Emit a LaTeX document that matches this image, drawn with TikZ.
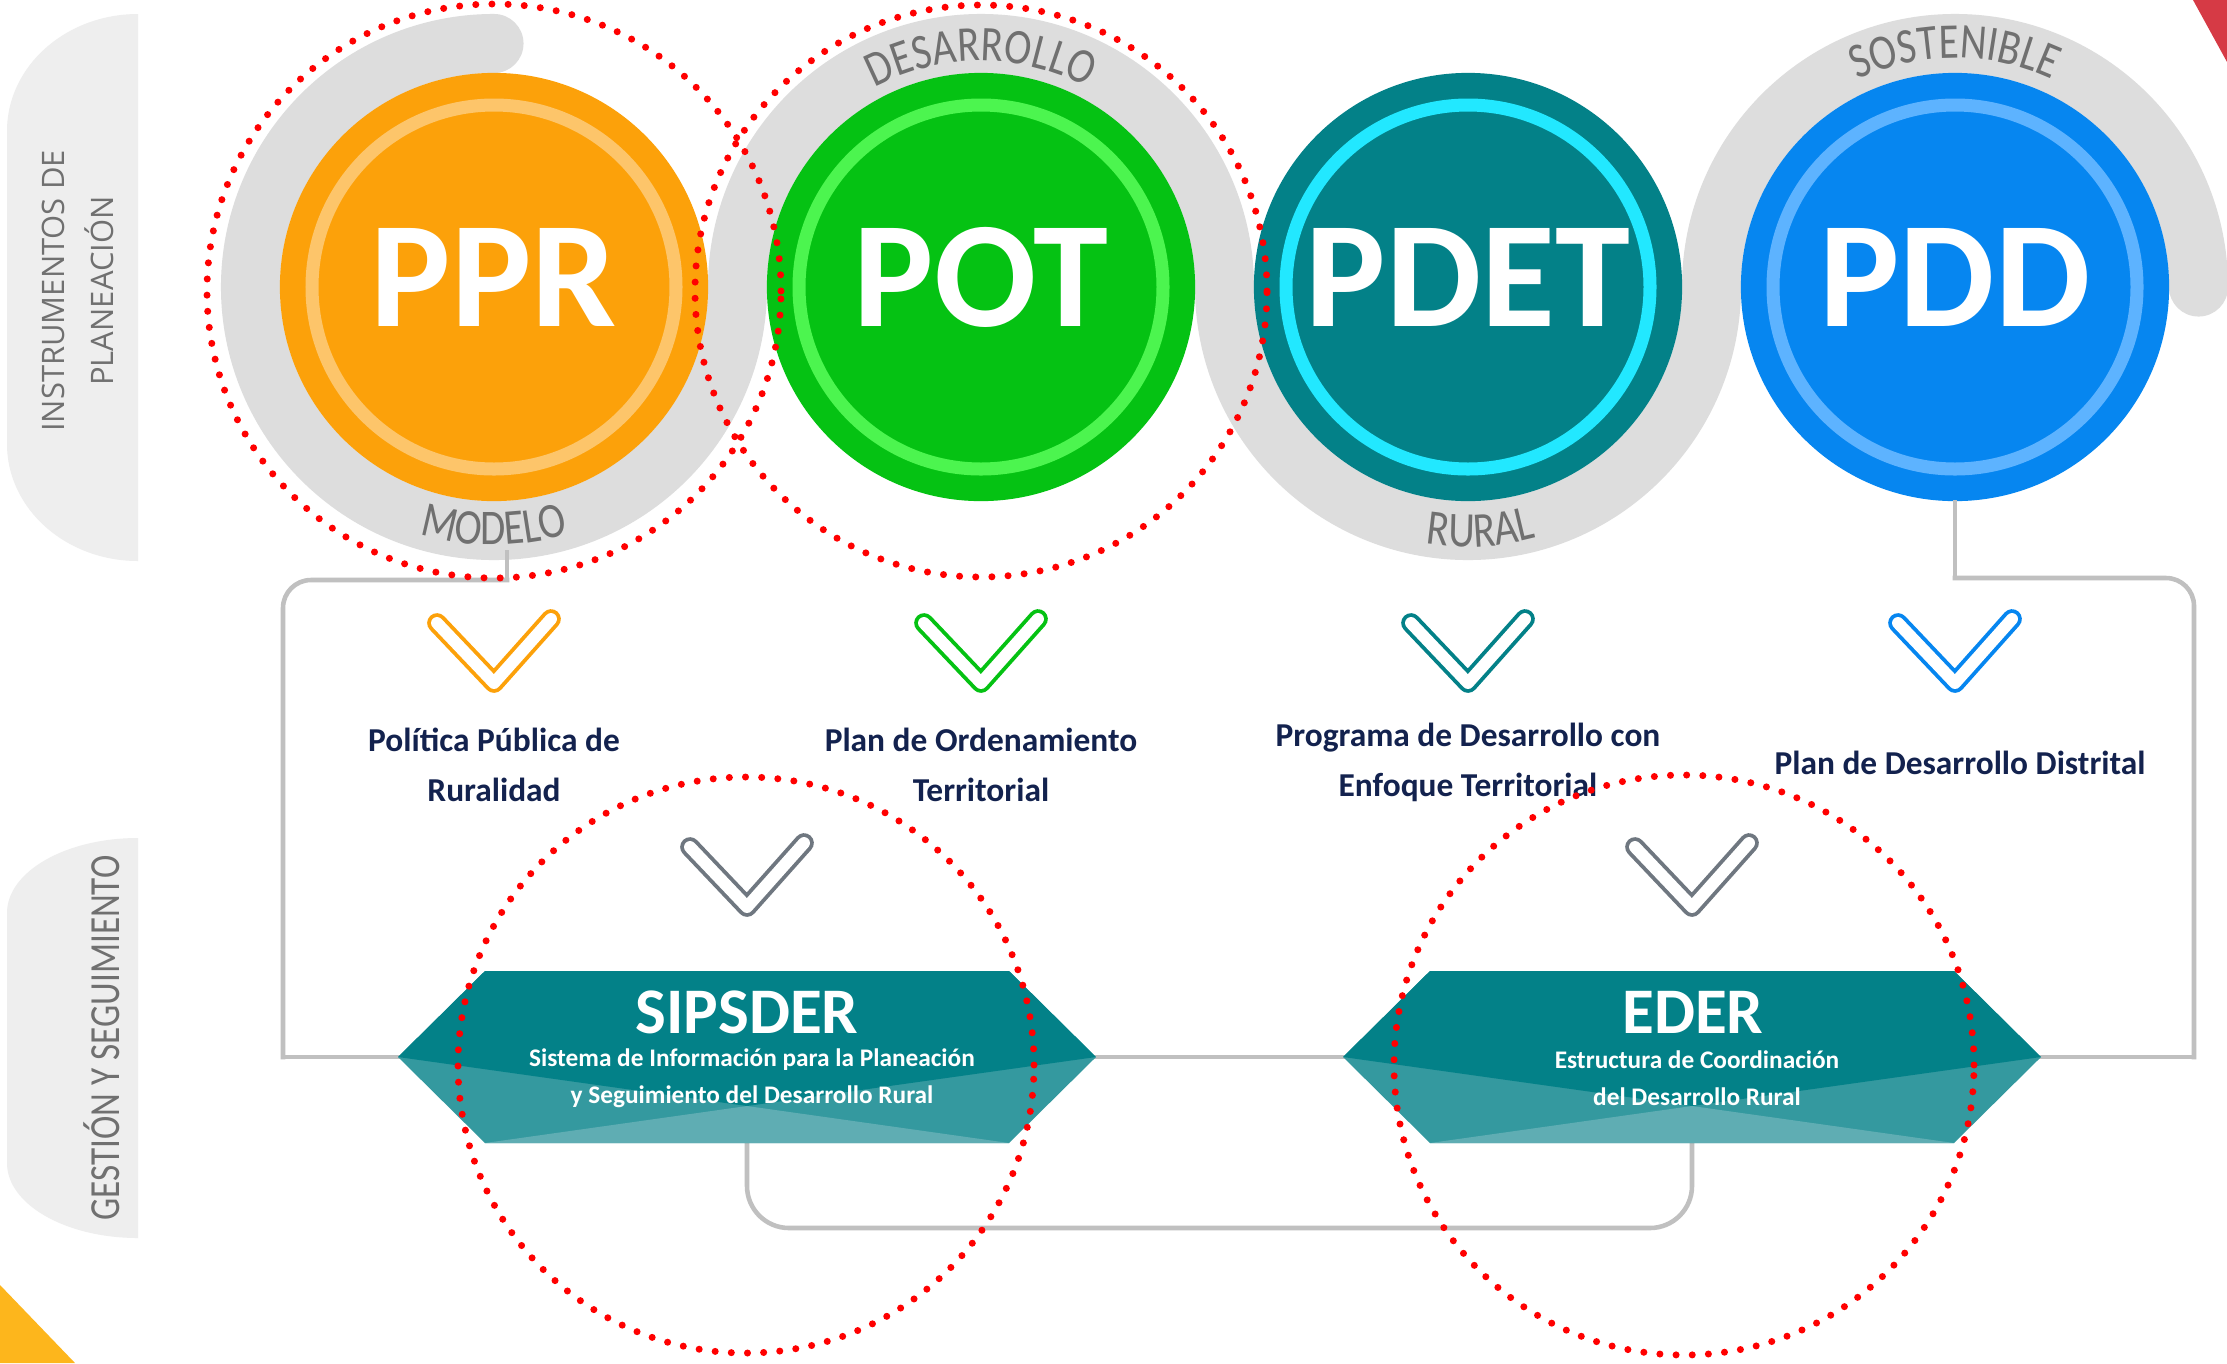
\documentclass[tikz,border=0pt]{standalone}
\usepackage{fontspec}
\setmainfont{Carlito}
\newfontfamily\narrowfont[FakeStretch=0.82]{Carlito}
\newfontfamily\sidefont{Open Sans}
\usetikzlibrary{positioning, calc, decorations.text}

\definecolor{pprorange}{RGB}{252, 161, 10}
\definecolor{pprring}{RGB}{253, 197, 106}
\definecolor{potgreen}{RGB}{5, 194, 19}
\definecolor{potring}{RGB}{76, 245, 79}
\definecolor{pdetteal}{RGB}{3, 129, 136}
\definecolor{pdetring}{RGB}{34, 232, 255}
\definecolor{pddblue}{RGB}{6, 134, 240}
\definecolor{pddring}{RGB}{93, 179, 255}
\definecolor{bandgrey}{RGB}{221, 221, 221}
\definecolor{pillgrey}{RGB}{238, 238, 238}
\definecolor{wordgrey}{RGB}{112, 112, 112}
\definecolor{linegrey}{RGB}{192, 192, 192}
\definecolor{navytext}{RGB}{19, 34, 78}
\definecolor{chevgrey}{RGB}{111, 119, 128}
\definecolor{hexdark}{RGB}{3, 129, 136}
\definecolor{hexmid}{RGB}{52, 153, 159}
\definecolor{hexlight}{RGB}{95, 173, 179}
\definecolor{markred}{RGB}{255, 0, 0}
\definecolor{cornerred}{RGB}{214, 58, 69}
\definecolor{corneryellow}{RGB}{253, 182, 28}

\newcommand\bandfmt{\narrowfont\fontsize{14.2}{15}\selectfont\color{wordgrey}}

\tikzset{
  plan/.style={circle, minimum size=4.28cm, inner sep=0pt},
  planring/.style={line width=3.7pt},
  acronym/.style={text=white, inner sep=0pt, font=\bfseries\fontsize{43}{43}\selectfont},
  planlabel/.style={text=navytext, align=center, font=\bfseries\fontsize{9.5}{14.2}\selectfont},
  hextitle/.style={text=white, inner sep=0pt, font=\bfseries\fontsize{18.5}{20}\selectfont},
  hexsub/.style={text=white, align=center, inner sep=0pt, font=\bfseries\fontsize{7.2}{10.5}\selectfont},
  chev/.style={line width=1.1pt, double=white, double distance=3.4pt, line cap=round, line join=round},
  link/.style={linegrey, line width=1.3pt, line cap=rect},
  dotring/.style={markred, line width=2pt, line cap=round, dash pattern=on 0pt off 4.6pt},
  sidetag/.style={text=wordgrey, align=center, rotate=90},
  bandword/.style={decorate, decoration={text along path, text align=center, text={|\bandfmt|#1}}}
}

\begin{document}
\begin{tikzpicture}[x=0.01cm, y=0.01cm]
  \useasboundingbox (0,0) rectangle (2227,-1363);
  \fill[white] (0,0) rectangle (2227,-1363);

  % side tabs
  \fill[pillgrey] (138,-14) arc[start angle=90, end angle=180, x radius=131, y radius=117]
    -- (7,-444) arc[start angle=180, end angle=270, x radius=131, y radius=117] -- cycle;
  \fill[pillgrey] (138,-838) arc[start angle=90, end angle=180, x radius=131, y radius=75]
    -- (7,-1163) arc[start angle=180, end angle=270, x radius=131, y radius=75] -- cycle;
  \node[sidetag, font=\sidefont\fontsize{8.8}{13.7}\selectfont] (instr) at (78,-291) {INSTRUMENTOS DE\\PLANEACIÓN};
  \node[sidetag, font=\narrowfont\fontsize{12.2}{13}\selectfont] (gestion) at (102,-1038) {GESTIÓN Y SEGUIMIENTO};

  % grey band winding round the circles
  \draw[bandgrey, line width=16.8pt, line cap=round]
    (494,-43.5) arc[start angle=90, end angle=360, radius=243.5]
    arc[start angle=180, end angle=0, radius=243.5]
    arc[start angle=180, end angle=360, radius=243.5]
    arc[start angle=180, end angle=0, radius=243.5];

  % the four instruments
  \node[plan, fill=pprorange] (ppr) at (494,-287) {};
  \node[plan, fill=potgreen] (pot) at (981,-287) {};
  \node[plan, fill=pdetteal] (pdet) at (1468,-287) {};
  \node[plan, fill=pddblue] (pdd) at (1955,-287) {};
  \foreach \c/\rc in {ppr/pprring, pot/potring, pdet/pdetring, pdd/pddring}
    \draw[planring, \rc] (\c.center) circle[radius=182];
  \node[acronym] (pprtag) at (494,-277) {PPR};
  \node[acronym] (pottag) at (981,-277) {POT};
  \node[acronym] (pdettag) at (1468,-277) {PDET};
  \node[acronym] (pddtag) at (1955,-277) {PDD};

  % words on the band
  \path[bandword=MODELO] ($(ppr.center)+(235:258)$) arc[start angle=235, end angle=305, radius=258];
  \path[bandword=DESARROLLO] ($(pot.center)+(125:226)$) arc[start angle=125, end angle=55, radius=226];
  \path[bandword=RURAL] ($(pdet.center)+(238:260)$) arc[start angle=238, end angle=308, radius=260];
  \path[bandword=SOSTENIBLE] ($(pdd.center)+(125:229)$) arc[start angle=125, end angle=55, radius=229];

  % chevrons
  \foreach \cx/\cy/\cc in {494/611/pprorange, 981/611/potgreen, 1468/611/pdetteal,
                           1955/611/pddblue, 747/835/chevgrey, 1692/835/chevgrey}
    \draw[chev, \cc] (\cx-57,-\cy-12) -- (\cx,-\cy-72) -- (\cx+57,-\cy-8);

  % labels
  \node[planlabel] (pprlabel) at (494,-765) {Política Pública de\\Ruralidad};
  \node[planlabel] (potlabel) at (981,-765) {Plan de Ordenamiento\\Territorial};
  \node[planlabel] (pdetlabel) at (1468,-762) {Programa de Desarrollo con\\Enfoque Territorial};
  \node[planlabel] (pddlabel) at (1960,-763) {Plan de Desarrollo Distrital};

  % hexagon corners
  \foreach \hx/\hn in {747/sip, 1692/eder} {
    \coordinate (\hn L) at (\hx-349,-1057);
    \coordinate (\hn TL) at (\hx-262,-971);
    \coordinate (\hn TR) at (\hx+262,-971);
    \coordinate (\hn R) at (\hx+349,-1057);
    \coordinate (\hn BR) at (\hx+262,-1143);
    \coordinate (\hn BL) at (\hx-262,-1143);
    \coordinate (\hn X) at (\hx,-1106);
    \coordinate (\hn B) at (\hx,-1143);
  }
  \coordinate (bandfoot) at (507,-552);
  \coordinate (leftbend) at (507,-580);
  \coordinate (leftturn) at (283,-1057);
  \coordinate (rightbend) at (1955,-578);
  \coordinate (rightturn) at (2194,-1057);

  % connectors
  \draw[link] (bandfoot) -- (leftbend);
  \draw[link, rounded corners=0.28cm] (leftbend) -- (283,-580) -- (leftturn);
  \draw[link] (leftturn) -- (sipL);
  \draw[link] (pdd.south) -- (rightbend);
  \draw[link, rounded corners=0.28cm] (rightbend) -- (2194,-578) -- (rightturn);
  \draw[link] (rightturn) -- (ederR);
  \draw[link] (sipR) -- (ederL);
  \draw[link, rounded corners=0.42cm] (sipB) -- (747,-1228) -- (1692,-1228) -- (ederB);

  % hexagons
  \foreach \hn in {sip, eder} {
    \fill[hexmid] (\hn L) -- (\hn TL) -- (\hn TR) -- (\hn R) -- (\hn BR) -- (\hn BL) -- cycle;
    \fill[hexdark] (\hn L) -- (\hn TL) -- (\hn TR) -- (\hn R) -- (\hn X) -- cycle;
    \fill[hexlight] (\hn BL) -- (\hn X) -- (\hn BR) -- cycle;
  }
  \node[hextitle] (siptitle) at (747,-1012) {SIPSDER};
  \node[hexsub] (sipsub) at (752,-1078) {Sistema de Información para la Planeación\\y Seguimiento del Desarrollo Rural};
  \node[hextitle] (edertitle) at (1693,-1012) {EDER};
  \node[hexsub] (edersub) at (1697,-1078) {Estructura de Coordinación\\del Desarrollo Rural};

  % red dotted marks
  \draw[dotring] (494,-291) circle[radius=287];
  \draw[dotring] (981,-291) circle[radius=286];
  \draw[dotring] (746,-1065) circle[radius=288];
  \draw[dotring] (1684,-1065) circle[radius=290];

  % corner pieces
  \fill[cornerred] (2193,0) -- (2227,0) -- (2227,-62) -- cycle;
  \fill[corneryellow] (0,-1285) -- (75,-1363) -- (0,-1363) -- cycle;
\end{tikzpicture}
\end{document}
